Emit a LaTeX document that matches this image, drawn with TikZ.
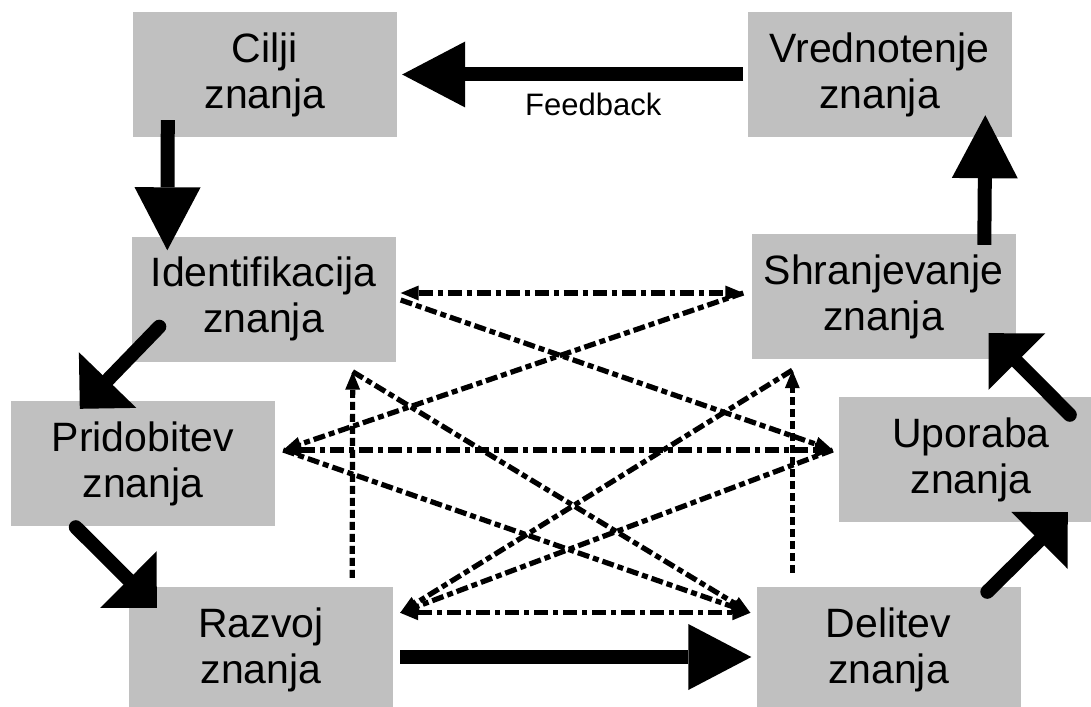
\documentclass[tikz,border=0pt]{standalone}
\usepackage{fontspec}
\setmainfont{Liberation Sans}
\usetikzlibrary{arrows.meta,calc}
\definecolor{boxgray}{RGB}{192,192,192}
\begin{document}
\begin{tikzpicture}[x=1pt,y=-1pt,
  box/.style={fill=boxgray, draw=none, minimum width=264pt, minimum height=125pt,
    inner sep=0pt, align=center, font=\fontsize{41}{46}\selectfont},
  flowarrow/.style={line width=14pt, -{Triangle[length=63pt,width=66pt,line width=0pt]}},
  slantarrow/.style={line width=14pt, line cap=round, -{Triangle[length=40pt,width=80pt,line width=0pt]}},
  tipsmall/.tip={Triangle[length=18pt,width=15pt,line width=0pt]},
  hlink/.style={line width=5.2pt, tipsmall-tipsmall, dash pattern=on 14pt off 5pt on 5pt off 5pt},
  dlink/.style={line width=5.2pt, -tipsmall, dash pattern=on 12pt off 4pt on 6pt off 4pt},
  vlink/.style={line width=5.2pt, -tipsmall, dash pattern=on 8pt off 4pt},
]
\useasboundingbox (0,0) rectangle (1091,706);
\fill[white] (0,0) rectangle (1091,706);
\clip (0,0) rectangle (1091,706);

% process boxes
\node[box] (cilji)   at (265,74.5)   {Cilji\\znanja};
\node[box] (vred)    at (879.5,74.5) {Vrednotenje\\znanja};
\node[box] (ident)   at (263.5,299)  {Identifikacija\\znanja};
\node[box] (shran)   at (883.5,296.5){Shranjevanje\\znanja};
\node[box] (prid)    at (143,463.5)  {Pridobitev\\znanja};
\node[box] (upor)    at (971,459.5)  {Uporaba\\znanja};
\node[box] (razvoj)  at (261,649.5)  {Razvoj\\znanja};
\node[box] (delitev) at (888.5,649.5){Delitev\\znanja};

% attachment points of the dashed links
\coordinate (idR) at ($(ident.east)+(5,-6)$);
\coordinate (idD) at ($(ident.east)+(5,1)$);
\coordinate (idB) at ($(ident.south east)+(-43,10)$);
\coordinate (shL) at ($(shran.west)+(-8,-3.5)$);
\coordinate (shB) at ($(shran.south west)+(41,11)$);
\coordinate (prR) at ($(prid.east)+(8,-13.5)$);
\coordinate (upL) at ($(upor.west)+(-6,-9.5)$);
\coordinate (raR) at ($(razvoj.north east)+(7,26)$);
\coordinate (raT) at ($(razvoj.north east)+(-41,-9)$);
\coordinate (deL) at ($(delitev.north west)+(-6,26)$);
\coordinate (deT) at ($(delitev.north west)+(36,-14)$);

% dashed cross links
\draw[hlink] (idR) -- (shL);
\draw[hlink] (prR) -- (upL);
\draw[hlink] (raR) -- (deL);
\draw[dlink] (idD) -- (upL);
\draw[dlink] (shL) -- (prR);
\draw[dlink] (prR) -- (deL);
\draw[dlink] (upL) -- (raR);
\draw[dlink] (idB) -- (deL);
\draw[dlink] (shB) -- (raR);
\draw[vlink] (raT) -- (idB);
\draw[vlink] (deT) -- (shB);

% main cycle
\draw[flowarrow] ($(vred.west)+(-4,0)$) -- node[pos=0.44, below=8pt, font=\fontsize{31}{33}\selectfont] (fb) {Feedback} ($(cilji.east)+(5,0)$);
\draw[flowarrow] ($(cilji.south west)+(35,-17)$) -- ($(ident.north west)+(36,14)$);
\draw[slantarrow] ($(ident.south west)+(28,-35)$) -- ($(prid.north west)+(69,8)$);
\draw[slantarrow] ($(prid.south west)+(65,1)$) -- ($(razvoj.north west)+(28,21)$);
\draw[flowarrow] ($(razvoj.east)+(7,7.5)$) -- ($(delitev.west)+(-5,7.5)$);
\draw[slantarrow] ($(delitev.north west)+(231,5)$) -- ($(upor.south west)+(229,-10)$);
\draw[slantarrow] ($(upor.north west)+(231,18)$) -- ($(shran.south east)+(-27,-26)$);
\draw[flowarrow] ($(shran.north west)+(233,11)$) -- ($(vred.south west)+(238,-22)$);
\end{tikzpicture}
\end{document}
